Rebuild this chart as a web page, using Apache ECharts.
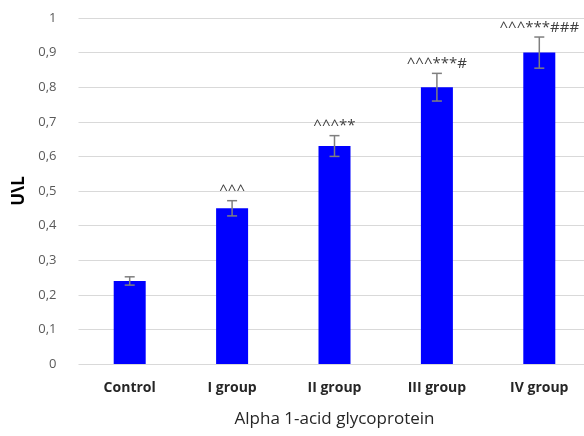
<!DOCTYPE html>
<html>
<head>
<meta charset="utf-8">
<script src="https://cdn.jsdelivr.net/npm/echarts@6/dist/echarts.min.js"></script>
<style>
html, body { margin: 0; padding: 0; background: #fff; }
#chart { width: 584px; height: 436px; }
</style>
</head>
<body>
<div id="chart"></div>
<script>
var categories = ['Control', 'I group', 'II group', 'III group', 'IV group'];
var values = [0.24, 0.45, 0.63, 0.80, 0.90];
var errors = [0.012, 0.022, 0.03, 0.04, 0.045];
var marks = ['', '^^^', '^^^**', '^^^***#', '^^^***###'];

var myChart = echarts.init(document.getElementById('chart'));

var errData = values.map(function (v, i) { return [i, v - errors[i], v + errors[i], marks[i]]; });

var option = {
    animation: false,
    grid: { left: 78.5, top: 18, width: 512, height: 346, containLabel: false, outerBoundsMode: 'none' },
    xAxis: {
        type: 'category',
        data: categories,
        axisLine: { show: false },
        axisTick: { show: false },
        axisLabel: { color: '#262626', fontWeight: 'bold', fontSize: 14, fontFamily: 'Open Sans', margin: 17 },
        name: 'Alpha 1-acid glycoprotein',
        nameLocation: 'middle',
        nameGap: 47,
        nameTextStyle: { color: '#262626', fontSize: 17, fontFamily: 'Open Sans' }
    },
    yAxis: {
        type: 'value',
        min: 0, max: 1, interval: 0.1,
        axisLine: { show: false },
        axisTick: { show: false },
        splitLine: { lineStyle: { color: '#d9d9d9' } },
        axisLabel: {
            color: '#595959', fontSize: 13, fontFamily: 'Open Sans', margin: 22,
            formatter: function (v) { return String(Math.round(v * 10) / 10).replace('.', ','); }
        },
        name: 'U\\L',
        nameLocation: 'middle',
        nameGap: 46,
        nameTextStyle: { color: '#000', fontWeight: 'bold', fontSize: 17, fontFamily: 'Open Sans' }
    },
    series: [{
        type: 'bar',
        data: values,
        barWidth: 32,
        itemStyle: { color: '#0000ff' }
    }, {
        type: 'custom',
        data: errData,
        z: 10,
        renderItem: function (params, api) {
            var x = api.coord([api.value(0), api.value(1)])[0];
            var lo = api.coord([api.value(0), api.value(1)])[1];
            var hi = api.coord([api.value(0), api.value(2)])[1];
            var w = 5;
            var st = { stroke: '#7f7f7f', lineWidth: 1.5 };
            var children = [
                { type: 'line', shape: { x1: x, y1: lo, x2: x, y2: hi }, style: st },
                { type: 'line', shape: { x1: x - w, y1: lo, x2: x + w, y2: lo }, style: st },
                { type: 'line', shape: { x1: x - w, y1: hi, x2: x + w, y2: hi }, style: st }
            ];
            var txt = errData[params.dataIndex][3];
            if (txt) {
                children.push({
                    type: 'text',
                    style: {
                        text: txt, x: x, y: hi - 2,
                        align: 'center', verticalAlign: 'bottom',
                        fill: '#404040', font: '15px "Open Sans"'
                    }
                });
            }
            return { type: 'group', children: children };
        }
    }]
};

myChart.setOption(option);
</script>
</body>
</html>
